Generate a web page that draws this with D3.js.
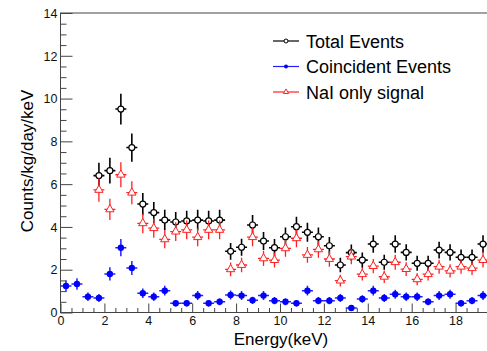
<!DOCTYPE html>
<html>
<head>
<meta charset="utf-8">
<script src="https://cdn.jsdelivr.net/npm/d3@7"></script>
<style>
  html, body { margin: 0; padding: 0; background: #fff; }
  svg { display: block; font-family: "Liberation Sans", Arial, sans-serif; }
</style>
</head>
<body>
<svg id="chart" width="487" height="351"></svg>
<script>
// bin centres (keV), 0.5 keV bins
const energy = [0.25, 0.75, 1.25, 1.75, 2.25, 2.75, 3.25, 3.75, 4.25, 4.75, 5.25, 5.75, 6.25, 6.75,
  7.25, 7.75, 8.25, 8.75, 9.25, 9.75, 10.25, 10.75, 11.25, 11.75, 12.25, 12.75, 13.25, 13.75,
  14.25, 14.75, 15.25, 15.75, 16.25, 16.75, 17.25, 17.75, 18.25, 18.75, 19.25];

// total / NaI only start at 1.75 keV
const totalEvents = [null, null, null, 6.40, 6.63, 9.51, 7.71, 5.07, 4.67, 4.32, 4.23, 4.28, 4.32, 4.28,
  4.32, 2.86, 3.05, 4.09, 3.34, 3.03, 3.54, 4.01, 3.75, 3.54, 3.12, 2.22, 2.80, 2.45,
  3.20, 2.35, 3.20, 2.81, 2.30, 2.30, 2.92, 2.81, 2.58, 2.58, 3.20];
const totalErr = [null, null, null, 0.60, 0.60, 0.72, 0.66, 0.52, 0.50, 0.48, 0.47, 0.48, 0.48, 0.48,
  0.48, 0.39, 0.40, 0.47, 0.42, 0.40, 0.43, 0.46, 0.44, 0.43, 0.41, 0.34, 0.38, 0.36,
  0.41, 0.35, 0.41, 0.38, 0.35, 0.35, 0.39, 0.38, 0.37, 0.37, 0.41];

const coincident = [1.24, 1.33, 0.74, 0.68, 1.80, 3.03, 2.08, 0.90, 0.74, 1.02, 0.43, 0.43, 0.79, 0.43,
  0.50, 0.82, 0.79, 0.57, 0.79, 0.55, 0.50, 0.43, 1.02, 0.55, 0.55, 0.68, 0.21, 0.63,
  1.02, 0.68, 0.85, 0.74, 0.74, 0.50, 0.79, 0.85, 0.43, 0.55, 0.79];
const coincidentErr = [0.26, 0.27, 0.20, 0.19, 0.31, 0.40, 0.33, 0.22, 0.20, 0.23, 0.15, 0.15, 0.21, 0.15,
  0.16, 0.21, 0.21, 0.17, 0.21, 0.17, 0.16, 0.15, 0.23, 0.17, 0.17, 0.19, 0.11, 0.18,
  0.23, 0.19, 0.21, 0.20, 0.20, 0.16, 0.21, 0.21, 0.15, 0.17, 0.21];

const naiOnly = [null, null, null, 5.73, 4.82, 6.44, 5.60, 4.17, 3.94, 3.42, 3.78, 3.86, 3.52, 3.86,
  3.86, 2.02, 2.22, 3.52, 2.53, 2.45, 3.00, 3.47, 2.69, 2.95, 2.50, 1.49, 2.61, 1.79,
  2.17, 1.67, 2.35, 2.03, 1.55, 1.79, 2.14, 1.95, 2.14, 2.07, 2.45];
const naiOnlyErr = [null, null, null, 0.55, 0.50, 0.58, 0.54, 0.46, 0.45, 0.42, 0.44, 0.44, 0.42, 0.44,
  0.44, 0.32, 0.34, 0.42, 0.36, 0.35, 0.39, 0.42, 0.37, 0.39, 0.36, 0.28, 0.36, 0.30,
  0.33, 0.29, 0.35, 0.32, 0.28, 0.30, 0.33, 0.31, 0.33, 0.32, 0.35];

const binHalf = 0.25;
const xMajor = [0, 2, 4, 6, 8, 10, 12, 14, 16, 18];
const yMajor = [0, 2, 4, 6, 8, 10, 12, 14];
const legendLabels = ['Total Events', 'Coincident Events', 'NaI only signal'];

const svg = d3.select('#chart');
const frame = { left: 60.5, right: 488.5, top: 13, bottom: 312.5 };

const x = d3.scaleLinear().domain([0, 19.5]).range([frame.left, frame.right]);
const y = d3.scaleLinear().domain([0, 14]).range([frame.bottom, frame.top]);

svg.append('rect').attr('width', 487).attr('height', 351).attr('fill', '#fff');

// frame
svg.append('rect')
  .attr('x', frame.left).attr('y', frame.top)
  .attr('width', frame.right - frame.left).attr('height', frame.bottom - frame.top)
  .attr('fill', 'none').attr('stroke', '#444').attr('stroke-width', 1);

// x axis: major + minor ticks drawn inward
const xMinor = d3.range(0, 19.51, 0.5).filter(v => v % 2 !== 0);
const gx = svg.append('g').attr('transform', `translate(0,${frame.bottom})`);
gx.call(d3.axisBottom(x).tickValues(xMajor).tickSize(-9).tickPadding(4).tickFormat(d3.format('d')));
gx.append('g').call(d3.axisBottom(x).tickValues(xMinor).tickSize(-4.5).tickFormat(''));

const yMinor = d3.range(0, 14.01, 0.5).filter(v => v % 2 !== 0);
const gy = svg.append('g').attr('transform', `translate(${frame.left},0)`);
gy.call(d3.axisLeft(y).tickValues(yMajor).tickSize(-12).tickPadding(3).tickFormat(d3.format('d')));
gy.append('g').call(d3.axisLeft(y).tickValues(yMinor).tickSize(-6).tickFormat(''));

svg.selectAll('.domain').remove();
svg.selectAll('.tick line').attr('stroke', '#444');
svg.selectAll('.tick text')
  .attr('fill', '#111')
  .style('font-size', '12.5px')
  .style('font-family', '"Liberation Sans", Arial, sans-serif');
gy.selectAll('.tick text').attr('dy', '0.34em');

// axis titles
svg.append('text')
  .attr('x', 281).attr('y', 345)
  .attr('text-anchor', 'middle')
  .style('font-size', '17px')
  .text('Energy(keV)');

svg.append('text')
  .attr('transform', 'translate(33,161) rotate(-90)')
  .attr('text-anchor', 'middle')
  .style('font-size', '17px')
  .text('Counts/kg/day/keV');

svg.append('clipPath').attr('id', 'plot-clip')
  .append('rect').attr('x', frame.left).attr('y', frame.top)
  .attr('width', frame.right - frame.left).attr('height', frame.bottom - frame.top);

function series(values, errs, color, width) {
  const pts = energy.map((e, i) => ({ e, v: values[i], err: errs[i] })).filter(d => d.v != null);
  const g = svg.append('g').attr('clip-path', 'url(#plot-clip)');
  g.selectAll('line.h').data(pts).join('line')
    .attr('x1', d => x(d.e - binHalf)).attr('x2', d => x(d.e + binHalf))
    .attr('y1', d => y(d.v)).attr('y2', d => y(d.v))
    .attr('stroke', color).attr('stroke-width', width);
  g.selectAll('line.v').data(pts).join('line')
    .attr('x1', d => x(d.e)).attr('x2', d => x(d.e))
    .attr('y1', d => y(d.v - d.err)).attr('y2', d => y(d.v + d.err))
    .attr('stroke', color).attr('stroke-width', width);
  return { g, pts };
}

const tri = d3.symbol().type(d3.symbolTriangle).size(30);

// Total events (black open circles)
const tot = series(totalEvents, totalErr, '#000', 1.6);
tot.g.selectAll('circle').data(tot.pts).join('circle')
  .attr('cx', d => x(d.e)).attr('cy', d => y(d.v)).attr('r', 3)
  .attr('fill', '#fff').attr('stroke', '#000').attr('stroke-width', 1.2);

// NaI only (red open triangles)
const nai = series(naiOnly, naiOnlyErr, '#ff2020', 1.3);
nai.g.selectAll('path.m').data(nai.pts).join('path')
  .attr('transform', d => `translate(${x(d.e)},${y(d.v)})`)
  .attr('d', tri)
  .attr('fill', '#fff').attr('stroke', '#ff2020').attr('stroke-width', 1);

// Coincident (blue filled circles)
const coi = series(coincident, coincidentErr, '#2020ff', 1.5);
coi.g.selectAll('circle').data(coi.pts).join('circle')
  .attr('cx', d => x(d.e)).attr('cy', d => y(d.v)).attr('r', 3.2)
  .attr('fill', '#0000ff');

// legend
const legendColors = ['#000', '#2020ff', '#ff2020'];
const leg = svg.append('g').selectAll('g').data(legendLabels).join('g')
  .attr('transform', (d, i) => `translate(273,${41 + i * 25.5})`);
leg.append('line').attr('x1', 0).attr('x2', 26).attr('y1', 0).attr('y2', 0)
  .attr('stroke', (d, i) => legendColors[i]).attr('stroke-width', 1.2);
leg.filter((d, i) => i === 0).append('circle')
  .attr('cx', 13).attr('r', 2).attr('fill', '#fff').attr('stroke', '#000');
leg.filter((d, i) => i === 1).append('circle')
  .attr('cx', 13).attr('r', 2).attr('fill', '#0000ff');
leg.filter((d, i) => i === 2).append('path')
  .attr('transform', 'translate(13,0)')
  .attr('d', d3.symbol().type(d3.symbolTriangle).size(12))
  .attr('fill', '#fff').attr('stroke', '#ff2020');
leg.append('text').attr('x', 33).attr('y', 6.5)
  .style('font-size', '18px').attr('fill', '#000')
  .text(d => d);
</script>
</body>
</html>
